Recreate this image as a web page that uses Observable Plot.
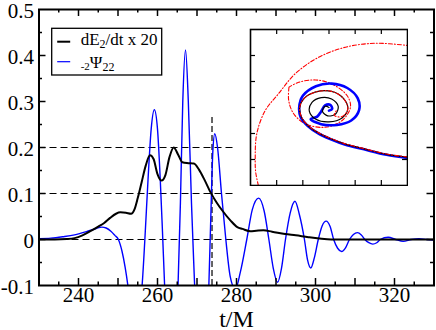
<!DOCTYPE html>
<html><head><meta charset="utf-8">
<script src="https://cdn.jsdelivr.net/npm/d3@7"></script>
<script src="https://cdn.jsdelivr.net/npm/@observablehq/plot@0.6"></script>
<style>
body{margin:0;background:#fff}
#wrap{position:relative;width:436px;height:330px;background:#fff}
</style>
</head><body><div id="wrap"></div>
<script>
// ---- main chart data ----
const blueT = [230,233,236,239,242,244.5,245.9,247,248.2,249.2,250.1,251.0,251.8,252.5,253.3,254.2,255.1,256.1,256.8,257.6,258.4,259.2,260.0,260.7,261.2,261.8,262.6,263.5,264.4,265.2,265.8,266.4,267.1,267.8,268.6,269.4,270.3,271.2,272.1,273.0,273.5,274.0,274.5,275.2,276.2,277.3,278.4,279.7,281.0,282.6,284.0,285.6,287.0,288.2,289.3,290.4,291.4,292.4,293.6,294.8,295.9,297.2,298.0,298.8,299.7,300.7,301.7,302.7,303.7,304.6,305.6,306.6,307.6,308.6,309.6,310.6,311.6,312.5,313.5,314.5,315.5,316.4,318.4,320.3,322.2,324.2,326.2,328.2,330];
const blueV = [0.002,0.003,0.006,0.010,0.017,0.024,0.027,0.025,0.018,0.009,0,-0.025,-0.06,-0.1,-0.16,-0.19,-0.16,-0.1,0.0,0.13,0.24,0.282,0.24,0.13,0.03,-0.1,-0.26,-0.33,-0.26,-0.1,0.08,0.3,0.412,0.3,0.08,-0.1,-0.3,-0.38,-0.3,-0.1,0.05,0.19,0.23,0.2,0.1,0.0,-0.08,-0.108,-0.07,0.0,0.065,0.09,0.062,0.0,-0.062,-0.093,-0.062,0.0,0.058,0.083,0.055,0.0,-0.045,-0.062,-0.04,0.0,0.03,0.04,0.028,0.0,-0.019,-0.026,-0.018,0.0,0.011,0.015,0.01,0.0,-0.007,-0.010,-0.007,0.0,0.005,0.0,-0.004,0.0,0.002,0.0,-0.001];
const blackT = [230,234,237,239,241,243,245,246.5,248,249.5,250.6,252,253.3,254.2,255.0,256.0,257.0,258.1,259.0,260.0,261.0,262.0,263.0,264.1,265.2,266.3,267.8,269.2,270.5,272,273.4,275,276.4,278.5,280.2,281.5,283.5,285,286.8,289,292.3,295,298.2,301,304,330];
const blackV = [0,0,0.001,0.003,0.009,0.018,0.028,0.036,0.047,0.056,0.059,0.058,0.056,0.066,0.09,0.125,0.16,0.183,0.175,0.142,0.128,0.14,0.178,0.2,0.185,0.168,0.166,0.165,0.152,0.128,0.103,0.08,0.063,0.041,0.027,0.023,0.018,0.019,0.02,0.017,0.012,0.009,0.005,0.002,0,0];
const guideLevels = [0, 0.1, 0.2];
const guideStart = 230, guideEnd = 280;
const markerT = [273.8];
const markerRange = [-0.1, 0.27];
const xDomain = [230, 330];
const yDomain = [-0.1, 0.5];
const xLabelTicks = [240, 260, 280, 300, 320];
const xMajorTicks = [240, 250, 260, 270, 280, 290, 300, 310, 320];
const xMinorTicks = [235, 245, 255, 265, 275, 285, 295, 305, 315, 325];
const yLabelTicks = [-0.1, 0, 0.1, 0.2, 0.3, 0.4, 0.5];
const yMajorTicks = [0, 0.1, 0.2, 0.3, 0.4];
const yMinorTicks = [-0.05, 0.05, 0.15, 0.25, 0.35, 0.45];
const xTitle = "t/M";
const legendItems = [
  {color: "#000000", pre: "", main: "dE", sub: "2", post: "/dt x 20"},
  {color: "#0000ff", pre: "-2", main: "\u03A8", sub: "22", post: ""}
];

// ---- inset data (track coordinates) ----
const insetTicks = [1, 2, 3, 4, 5];
const blackTrackU = [6.0,5.2,4.34,3.6,3.07,2.6,2.2,1.95,1.88,2.05,2.5,3.1,3.55,3.72,3.5,3.0,2.5,2.25,2.35,2.7,3.1,3.35,3.25,2.95,2.75,2.85,3.0];
const blackTrackV = [1.09,1.2,1.41,1.6,1.8,2.02,2.3,2.62,3.0,3.35,3.6,3.62,3.35,2.95,2.6,2.45,2.55,2.85,3.2,3.38,3.33,3.05,2.75,2.68,2.85,3.05,3.0];
const blueTrackU = [6.0,5.2,4.34,3.6,3.07,2.6,2.2,1.92,1.86,2.0,2.5,3.1,3.7,4.1,4.15,3.85,3.3,2.7,2.3,2.55,2.7,2.85,3.05,3.12,3.0];
const blueTrackV = [1.06,1.18,1.39,1.58,1.78,2.0,2.28,2.62,3.0,3.45,3.82,3.92,3.75,3.35,2.9,2.5,2.33,2.36,2.55,2.65,2.85,3.08,3.1,2.95,2.88];
const redTrackU = [6.0,5.2,4.34,3.6,3.07,2.6,2.2,1.95,1.88,2.05,2.5,3.1,3.55,3.72,3.5,3.2,3.3];
const redTrackV = [1.1,1.21,1.42,1.61,1.81,2.03,2.31,2.63,3.0,3.35,3.6,3.62,3.35,2.95,2.65,2.7,2.9];
const redLoopU = [1.47,1.46,1.65,2.1,2.86,3.5,3.82,3.69,3.12,2.48,1.84,1.47];
const redLoopV = [3.78,3.27,2.76,2.37,2.24,2.5,3.01,3.46,3.9,4.06,3.97,3.78];
const redArcU = [0.3,0.2,0.18,0.24,0.56,1.07,1.71,2.6,3.63,4.78,6.05];
const redArcV = [0,0.5,1.0,1.99,2.88,3.53,4.3,4.93,5.32,5.47,5.38];

const zipXY = (a, b) => a.map((x, i) => ({x, y: b[i]}));
const blue = zipXY(blueT, blueV);
const black = zipXY(blackT, blackV);

const FONT = "Liberation Serif";
const W = 436, H = 330;
const mL = 38.5, mR = 2.5, mT = 9, mB = 45;
const pW = W - mL - mR, pH = H - mT - mB;
const MAJ = 7, MIN = 3.5;

const main = Plot.plot({
  width: W, height: H,
  marginLeft: mL, marginRight: mR, marginTop: mT, marginBottom: mB,
  x: {domain: xDomain},
  y: {domain: yDomain},
  style: {fontFamily: FONT, background: "#fff", color: "#000"},
  marks: [
    Plot.ruleY(guideLevels, {y: d => d, x1: guideStart, x2: guideEnd, stroke: "#000", strokeWidth: 1.2, strokeDasharray: "7,4"}),
    Plot.ruleX(markerT, {x: d => d, y1: markerRange[0], y2: markerRange[1], stroke: "#000", strokeWidth: 1.2, strokeDasharray: "6,3"}),
    Plot.line(blue, {x: "x", y: "y", stroke: "#0000ff", strokeWidth: 1.4, curve: "monotone-x", clip: true}),
    Plot.line(black, {x: "x", y: "y", stroke: "#000", strokeWidth: 2, curve: "monotone-x", clip: true}),
    Plot.tickX(xMajorTicks, {x: d => d, insetTop: pH - MAJ, strokeWidth: 1.5}),
    Plot.tickX(xMajorTicks, {x: d => d, insetBottom: pH - MAJ, strokeWidth: 1.5}),
    Plot.tickX(xMinorTicks, {x: d => d, insetTop: pH - MIN, strokeWidth: 1.5}),
    Plot.tickX(xMinorTicks, {x: d => d, insetBottom: pH - MIN, strokeWidth: 1.5}),
    Plot.tickY(yMajorTicks, {y: d => d, insetRight: pW - MAJ, strokeWidth: 1.5}),
    Plot.tickY(yMajorTicks, {y: d => d, insetLeft: pW - MAJ, strokeWidth: 1.5}),
    Plot.tickY(yMinorTicks, {y: d => d, insetRight: pW - MIN, strokeWidth: 1.5}),
    Plot.tickY(yMinorTicks, {y: d => d, insetLeft: pW - MIN, strokeWidth: 1.5}),
    Plot.axisX(xLabelTicks, {tickSize: 0, tickPadding: 2, fontSize: 21, fontFamily: FONT, label: null, tickFormat: d => String(d)}),
    Plot.axisY(yLabelTicks, {tickSize: 0, tickPadding: 5, fontSize: 21, fontFamily: FONT, label: null, tickFormat: d => d === 0 ? "0" : String(d), dy: 2}),
    Plot.text([xTitle], {frameAnchor: "bottom", text: d => d, dy: 34, lineAnchor: "middle", fontSize: 24, fontFamily: FONT, fill: "#000"}),
    Plot.frame({stroke: "#000", strokeWidth: 2})
  ]
});
main.setAttribute("font-family", FONT);
d3.select(main).selectAll("text").attr("font-family", FONT);

// legend (SVG, real text)
const svg = d3.select(main);
const lg = svg.append("g").attr("transform", "translate(51.7,28.3)").attr("font-family", FONT).attr("text-anchor", "start");
lg.append("rect").attr("width", 110).attr("height", 46.7).attr("fill", "#fff").attr("stroke", "#000").attr("stroke-width", 1.3);
legendItems.forEach((it, i) => {
  const yl = 13.4 + i * 20;
  lg.append("line").attr("x1", 5.5).attr("x2", 18.5).attr("y1", yl).attr("y2", yl)
    .attr("stroke", it.color).attr("stroke-width", i === 0 ? 2 : 1.2);
  const t = lg.append("text").attr("x", 29).attr("y", yl + 3.5 + (i === 1 ? 3 : 0))
    .attr("font-size", 17).attr("fill", "#000").attr("text-anchor", "start").attr("font-family", FONT);
  if (it.pre) { t.append("tspan").attr("font-size", 11).attr("dy", 2).text(it.pre); t.append("tspan").attr("dy", -2).text(it.main); }
  else t.append("tspan").text(it.main);
  t.append("tspan").attr("font-size", 12).attr("dy", 3).text(it.sub);
  if (it.post) t.append("tspan").attr("dy", -3).text(it.post);
});

// inset
const IW = 159, IH = 158;
const iTick = 5;
const dashDot = "4,2,1,2";
const inset = Plot.plot({
  width: IW, height: IH, margin: 1,
  x: {domain: [0, 6], axis: null},
  y: {domain: [0, 6], axis: null},
  style: {background: "#fff"},
  marks: [
    Plot.line(zipXY(redArcU, redArcV), {x: "x", y: "y", stroke: "#ff0000", strokeWidth: 1.1, strokeDasharray: dashDot, curve: "catmull-rom", clip: true}),
    Plot.line(zipXY(redLoopU, redLoopV), {x: "x", y: "y", stroke: "#ff0000", strokeWidth: 1.1, strokeDasharray: dashDot, curve: "catmull-rom", clip: true}),
    Plot.line(zipXY(blueTrackU, blueTrackV), {x: "x", y: "y", stroke: "#0000ff", strokeWidth: 2.6, curve: "catmull-rom", clip: true}),
    Plot.line(zipXY(blackTrackU, blackTrackV), {x: "x", y: "y", stroke: "#000", strokeWidth: 1.2, curve: "catmull-rom", clip: true}),
    Plot.line(zipXY(redTrackU, redTrackV), {x: "x", y: "y", stroke: "#ff0000", strokeWidth: 1.1, strokeDasharray: dashDot, curve: "catmull-rom", clip: true}),
    Plot.tickX(insetTicks, {x: d => d, insetTop: IH - 2 - iTick, strokeWidth: 1.2}),
    Plot.tickX(insetTicks, {x: d => d, insetBottom: IH - 2 - iTick, strokeWidth: 1.2}),
    Plot.tickY(insetTicks, {y: d => d, insetRight: IW - 2 - iTick, strokeWidth: 1.2}),
    Plot.tickY(insetTicks, {y: d => d, insetLeft: IW - 2 - iTick, strokeWidth: 1.2}),
    Plot.frame({stroke: "#000", strokeWidth: 1.6})
  ]
});
inset.style.position = "absolute";
inset.style.left = "249px";
inset.style.top = "28px";

const wrap = document.getElementById("wrap");
wrap.appendChild(main);
wrap.appendChild(inset);
</script>
</body></html>
